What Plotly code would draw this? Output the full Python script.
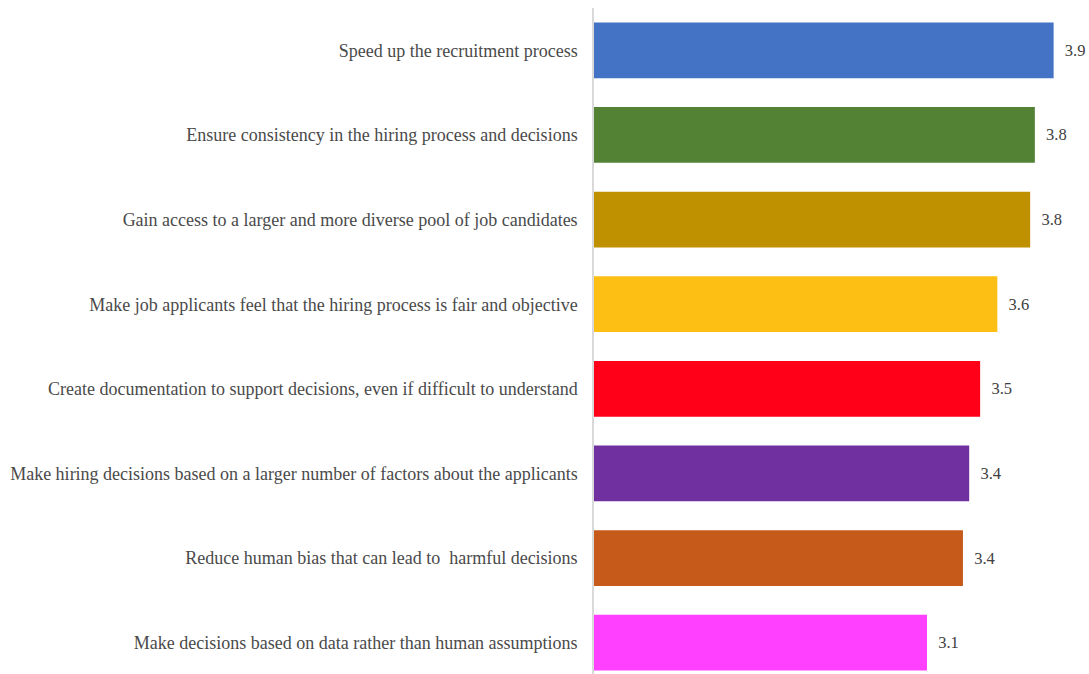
import plotly.graph_objects as go

categories = [
    "Speed up the recruitment process",
    "Ensure consistency in the hiring process and decisions",
    "Gain access to a larger and more diverse pool of job candidates",
    "Make job applicants feel that the hiring process is fair and objective",
    "Create documentation to support decisions, even if difficult to understand",
    "Make hiring decisions based on a larger number of factors about the applicants",
    "Reduce human bias that can lead to  harmful decisions",
    "Make decisions based on data rather than human assumptions",
]
values = [3.94, 3.82, 3.79, 3.58, 3.47, 3.40, 3.36, 3.13]
colors = ["#4472C4", "#548235", "#BF9000", "#FDBF13", "#FF0018", "#7030A0", "#C55A1B", "#FF40FF"]

fig = go.Figure(
    go.Bar(
        x=values,
        y=categories,
        orientation="h",
        marker=dict(color=colors, line=dict(width=0)),
        texttemplate="  %{x:.1f}",
        textposition="outside",
        textfont=dict(family="Liberation Serif", size=16.5, color="#404040"),
        cliponaxis=False,
    )
)

fig.update_layout(
    width=1089,
    height=674,
    margin=dict(l=594, r=26, t=8, b=0),
    plot_bgcolor="white",
    paper_bgcolor="white",
    bargap=0.34,
    showlegend=False,
    font=dict(family="Liberation Serif", size=16, color="#404040"),
)
fig.update_xaxes(range=[1, 4], visible=False, showgrid=False, zeroline=False)
fig.update_yaxes(
    type="category",
    range=[7.37, -0.5],
    showline=True,
    linecolor="#D9D9D9",
    linewidth=1.5,
    showgrid=False,
    ticks="",
    ticklabelstandoff=11,
    tickfont=dict(family="Liberation Serif", size=18, color="#4A4A4A"),
)

fig.write_html("out.html")
